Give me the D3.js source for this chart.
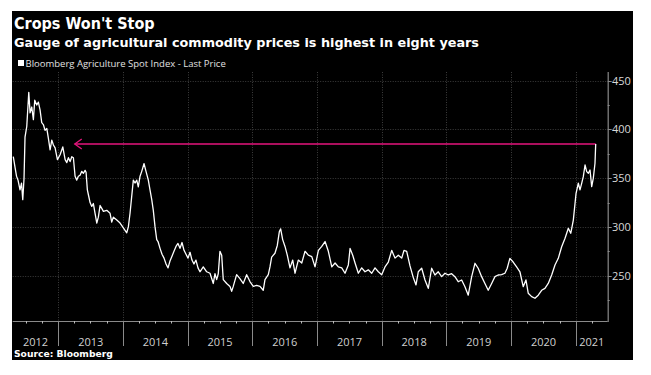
<!DOCTYPE html>
<html><head><meta charset="utf-8">
<script src="https://cdn.jsdelivr.net/npm/d3@7"></script>
<style>html,body{margin:0;padding:0;background:#fff;}svg{display:block;}</style>
</head><body>
<svg id="chart" width="651" height="375"></svg>
<script>
// ---- data (decimal years, index level) ----
const years = [2012.304,2012.331,2012.354,2012.377,2012.408,2012.431,2012.450,2012.470,2012.485,2012.512,2012.543,2012.563,2012.589,2012.614,2012.635,2012.666,2012.691,2012.717,2012.743,2012.768,2012.794,2012.821,2012.845,2012.872,2012.898,2012.923,2012.949,2012.985,
2013.026,2013.068,2013.104,2013.130,2013.155,2013.181,2013.207,2013.232,2013.258,2013.284,2013.309,2013.335,2013.362,2013.386,2013.413,2013.428,2013.448,2013.464,2013.490,2013.516,2013.541,2013.567,2013.594,2013.618,2013.645,2013.671,2013.696,2013.748,2013.799,2013.825,2013.850,2013.903,2013.954,
2014.005,2014.057,2014.082,2014.108,2014.159,2014.185,2014.212,2014.236,2014.263,2014.289,2014.325,2014.351,2014.391,2014.417,2014.444,2014.468,2014.495,2014.521,2014.541,2014.572,2014.603,2014.634,2014.665,2014.696,2014.726,2014.757,2014.788,2014.819,2014.850,2014.881,2014.912,2014.943,2014.974,
2015.005,2015.036,2015.066,2015.097,2015.128,2015.159,2015.190,2015.241,2015.294,2015.345,2015.396,2015.422,2015.448,2015.473,2015.499,2015.526,2015.550,2015.603,2015.654,2015.680,2015.705,2015.757,2015.808,2015.859,2015.912,2015.963,
2016.014,2016.066,2016.118,2016.168,2016.195,2016.246,2016.272,2016.298,2016.349,2016.385,2016.416,2016.437,2016.468,2016.504,2016.539,2016.581,2016.623,2016.658,2016.709,2016.762,2016.813,2016.864,2016.917,2016.967,
2017.019,2017.071,2017.122,2017.173,2017.226,2017.277,2017.328,2017.380,2017.431,2017.482,2017.509,2017.550,2017.586,2017.637,2017.689,2017.740,2017.791,2017.844,2017.895,2017.946,2017.998,
2018.049,2018.101,2018.153,2018.204,2018.255,2018.308,2018.343,2018.385,2018.436,2018.487,2018.529,2018.564,2018.617,2018.668,2018.719,2018.771,2018.822,2018.873,2018.926,2018.977,
2019.028,2019.080,2019.131,2019.182,2019.235,2019.286,2019.337,2019.390,2019.441,2019.491,2019.544,2019.595,2019.646,2019.699,2019.750,2019.800,2019.853,2019.904,2019.940,2019.981,
2020.032,2020.085,2020.136,2020.187,2020.229,2020.264,2020.317,2020.368,2020.419,2020.471,2020.522,2020.573,2020.626,2020.677,2020.728,2020.780,2020.832,2020.883,2020.920,2020.960,
2021.002,2021.037,2021.063,2021.090,2021.114,2021.141,2021.167,2021.192,2021.218,2021.244,2021.269,2021.295,2021.306];
const prices = [372,361,352,348,338,345,328,350,392,403,438,417,423,410,430,425,428,420,407,405,399,401,391,379,389,384,381,369,
374,382,369,366,371,367,372,371,352,348,352,353,357,355,358,356,338,333,325,321,324,314,304,310,322,319,316,317,314,305,310,307,304,
299,294,300,314,348,345,348,341,352,357,365,358,348,338,328,317,300,287,285,278,272,268,262,258,265,270,275,280,283,278,284,276,272,
268,274,266,262,266,258,254,259,254,252.5,242,252,246,252,275,271,246,242,239,234,239,251,247,242,251,244,
239,240,239,235,246,251,259,269,273,281,295,298,287,280,271,258,266,252.5,266,263,275,271,269.5,259,
276,280,285,275,259,263,259,258,252.5,261,278,271,263,252.5,258,254,256,252.5,258,254,251,
259,264,276,268,271,268,276,275,260,248,240.5,254,257.6,245.6,237,257.6,250.7,254,249,252.5,
250.7,252,249,243.8,245.6,238.7,230,249,262.7,257.6,249,242,235,242,249,250.7,251,252.5,257.6,267.8,
264,259,254,238.7,245.6,232,228.5,226.8,230,235,237,242,250.7,261,267.8,279.7,288.4,298.6,293.5,307,
334.5,344.8,338,345,351.5,363.5,356.7,355,358.4,341.3,350,365.3,385];
const yTicks = [250, 300, 350, 400, 450];
const yMinorTicks = [225, 275, 325, 375, 425];
const yearLabels = ["2012","2013","2014","2015","2016","2017","2018","2019","2020","2021"];
const xDomainYears = [2012.295, 2021.4915];
const yDomain = [203.5, 458.9];
const arrowStartYear = 2013.253;
const titleText = "Crops Won't Stop";
const subtitleText = "Gauge of agricultural commodity prices is highest in eight years";
const legendText = "Bloomberg Agriculture Spot Index - Last Price";
const sourceText = "Source: Bloomberg";

// ---- helpers ----
function decToDate(t){const y=Math.floor(t);const s=new Date(y,0,1),e=new Date(y+1,0,1);return new Date(+s+(t-y)*(e-s));}
const data = years.map((t,i)=>({date:decToDate(t), v:prices[i]}));

const svg = d3.select("#chart");
const L = 12.7, R = 607.7, T = 72, B = 321;
svg.append("rect").attr("x",12).attr("y",11).attr("width",621).attr("height",349).attr("fill","#000");

const x = d3.scaleTime().domain(xDomainYears.map(decToDate)).range([L, R]);
const y = d3.scaleLinear().domain(yDomain).range([B, T]);

// gridlines
const grid = svg.append("g").attr("stroke","#3c3c3c").attr("stroke-width",1).attr("stroke-dasharray","1,1.5");
yTicks.forEach(v=>grid.append("line").attr("x1",L).attr("x2",R).attr("y1",Math.round(y(v))+0.5).attr("y2",Math.round(y(v))+0.5));
const yearStarts = d3.timeYear.range(d3.timeYear.ceil(x.domain()[0]), x.domain()[1]);
yearStarts.forEach(d=>grid.append("line").attr("x1",Math.round(x(d))+0.5).attr("x2",Math.round(x(d))+0.5).attr("y1",T).attr("y2",B));

// x axis
const axCol = "#8a8a8a";
svg.append("line").attr("x1",L).attr("x2",R).attr("y1",B+0.5).attr("y2",B+0.5).attr("stroke",axCol).attr("stroke-width",1.2);
yearStarts.forEach(d=>svg.append("line").attr("x1",Math.round(x(d))+0.5).attr("x2",Math.round(x(d))+0.5).attr("y1",B).attr("y2",B+25).attr("stroke",axCol).attr("stroke-width",1));
const quarters = d3.timeMonth.every(3).range(x.domain()[0], x.domain()[1]).filter(d=>d.getMonth()!==0);
quarters.forEach(d=>svg.append("line").attr("x1",Math.round(x(d))+0.5).attr("x2",Math.round(x(d))+0.5).attr("y1",B).attr("y2",B+2.5).attr("stroke","#bbb").attr("stroke-width",1));
const bounds = [x.domain()[0], ...yearStarts, x.domain()[1]];
yearLabels.forEach((lab,i)=>{
  const cx = (x(bounds[i])+x(bounds[i+1]))/2;
  svg.append("text").attr("x",cx).attr("y",345.5).attr("text-anchor","middle")
    .attr("font-family","'Open Sans', sans-serif").attr("font-size",11).attr("fill","#d0d0d0").text(lab);
});

// y axis (right)
svg.append("line").attr("x1",R+0.5).attr("x2",R+0.5).attr("y1",T).attr("y2",B+1).attr("stroke",axCol).attr("stroke-width",1.2);
yTicks.forEach(v=>{
  svg.append("line").attr("x1",R).attr("x2",R+4).attr("y1",Math.round(y(v))+0.5).attr("y2",Math.round(y(v))+0.5).attr("stroke",axCol);
  svg.append("text").attr("x",612).attr("y",y(v)+4).attr("font-family","'Open Sans', sans-serif").attr("font-size",11).attr("fill","#d8d8d8").text(v);
});
yMinorTicks.forEach(v=>svg.append("line").attr("x1",R).attr("x2",R+2).attr("y1",Math.round(y(v))+0.5).attr("y2",Math.round(y(v))+0.5).attr("stroke",axCol));

// arrow
const last = data[data.length-1];
const ay = y(last.v), ax0 = x(decToDate(arrowStartYear)), ax1 = x(last.date);
const pink = "#e5157d";
svg.append("line").attr("x1",ax0).attr("x2",ax1).attr("y1",ay).attr("y2",ay).attr("stroke",pink).attr("stroke-width",1.5);
svg.append("path").attr("d",`M${ax0+7},${ay-5}L${ax0},${ay}L${ax0+7},${ay+5}`).attr("fill","none").attr("stroke",pink).attr("stroke-width",1.3);

// line
svg.append("path").datum(data).attr("fill","none").attr("stroke","#fff").attr("stroke-width",1.3).attr("stroke-linejoin","round")
  .attr("d", d3.line().x(d=>x(d.date)).y(d=>y(d.v)));

// titles
svg.append("text").attr("x",14).attr("y",28.5).attr("font-family","'DejaVu Sans Condensed', 'DejaVu Sans', sans-serif").attr("font-weight","bold").attr("font-size",16).attr("fill","#fff").text(titleText);
svg.append("text").attr("x",14).attr("y",46.5).attr("font-family","'DejaVu Sans', sans-serif").attr("font-weight","bold").attr("font-size",12.8).attr("fill","#fff").text(subtitleText);
svg.append("rect").attr("x",18).attr("y",60).attr("width",6).attr("height",6).attr("fill","#fff");
svg.append("text").attr("x",25.5).attr("y",66.5).attr("font-family","'Liberation Sans Narrow', 'Open Sans', sans-serif").attr("font-size",9.5).attr("fill","#e0e0e0").text(legendText);
svg.append("text").attr("x",14).attr("y",357).attr("font-family","'DejaVu Sans', sans-serif").attr("font-weight","bold").attr("font-size",9.2).attr("fill","#fff").text(sourceText);
</script>
</body></html>
